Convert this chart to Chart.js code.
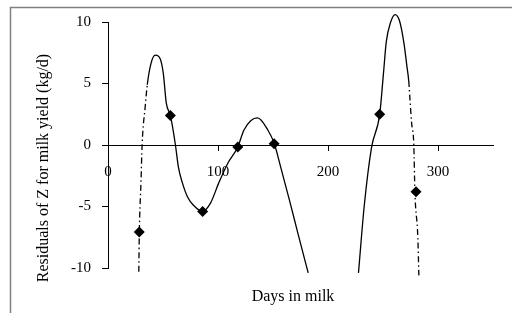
<!DOCTYPE html>
<html>
<head>
<meta charset="utf-8">
<script src="https://cdn.jsdelivr.net/npm/chart.js@4.4.1/dist/chart.umd.min.js"></script>
<style>
  html, body { margin: 0; padding: 0; background: #fff; }
  #wrap { width: 512px; height: 313px; position: relative; }
</style>
</head>
<body>
<div id="wrap"><canvas id="residChart"></canvas></div>
<script>
// tick labels
const xTicks = [0, 100, 200, 300];
const yTicks = [-10, -5, 0, 5, 10];

// observed residuals (diamonds)
const pointsX = [28.4, 56.7, 86, 118, 151, 247, 280];
const pointsY = [-7.07, 2.4, -5.4, -0.16, 0.1, 2.5, -3.8];

// fitted curve; first and second piece
// dashed flags: 1 = segment starting at this point is dash-dot
const leftX = [28, 28.5, 30, 31, 33.8, 35.7, 39, 43, 47.5, 50.3, 53, 56.7, 61.3, 64, 67.7, 72.2, 77.7, 86, 93.3, 100.6, 108.8, 118, 123.5, 130, 136, 145.4, 151, 157, 165, 172.7, 182];
const leftY = [-10.3, -7, -3, 0, 3.1, 4.9, 6.6, 7.3, 7.0, 5.8, 3.4, 2.4, 0, -1.8, -3.1, -4.2, -4.9, -5.4, -4.7, -3.1, -1.5, -0.16, 1.2, 2.0, 2.2, 1.2, 0.16, -1.8, -4.5, -7.2, -10.4];
const leftDashed = [1, 1, 1, 1, 1, 0, 0, 0, 0, 0, 0, 0, 0, 0, 0, 0, 0, 0, 0, 0, 0, 0, 0, 0, 0, 0, 0, 0, 0, 0, 0];

const rightX = [227.7, 233, 239.6, 247, 250.5, 253, 257, 261, 265, 269, 271.6, 273.4, 274.6, 276, 278, 279, 281.7, 282.6];
const rightY = [-10.4, -4.9, -0.2, 2.5, 5.9, 8.4, 10.0, 10.6, 10.1, 8.3, 6.5, 5.2, 3.6, 1.8, 0, -3.8, -7.6, -10.6];
const rightDashed = [0, 0, 0, 0, 0, 0, 0, 0, 0, 0, 0, 1, 1, 1, 1, 1, 1, 1];

function pairs(xs, ys) {
    return xs.map((x, i) => ({ x: x, y: ys[i] }));
}

function curve(xs, ys, dashed) {
    return {
        data: pairs(xs, ys),
        showLine: true,
        borderColor: '#000',
        borderWidth: 1.3,
        pointRadius: 0,
        cubicInterpolationMode: 'monotone',
        clip: false,
        segment: {
            borderDash: (c) => dashed[c.p0DataIndex] ? [6, 3, 1.5, 3] : [],
        },
    };
}

const serif = '"Liberation Serif", "Times New Roman", serif';

// axis titles and the picture frame
const decor = {
    id: 'decor',
    afterDraw(chart) {
        const ctx = chart.ctx;
        ctx.save();
        ctx.strokeStyle = '#808080';
        ctx.lineWidth = 1.5;
        ctx.beginPath();
        ctx.moveTo(10.5, 313);
        ctx.lineTo(10.5, 7.5);
        ctx.lineTo(512, 7.5);
        ctx.stroke();

        ctx.fillStyle = '#000';
        ctx.font = '16px ' + serif;
        ctx.textAlign = 'center';
        ctx.textBaseline = 'middle';
        ctx.fillText('Days in milk', 293, 297);
        ctx.translate(44, 168);
        ctx.rotate(-Math.PI / 2);
        ctx.fillText('Residuals of Z for milk yield (kg/d)', 0, 0);
        ctx.restore();
    }
};

const ctx = document.getElementById('residChart').getContext('2d');
new Chart(ctx, {
    type: 'scatter',
    data: {
        datasets: [
            curve(leftX, leftY, leftDashed),
            curve(rightX, rightY, rightDashed),
            {
                data: pairs(pointsX, pointsY),
                pointStyle: 'rectRot',
                pointRadius: 5.5,
                backgroundColor: '#000',
                borderColor: '#000',
                borderWidth: 0,
                clip: false,
            },
        ],
    },
    options: {
        responsive: true,
        maintainAspectRatio: false,
        animation: false,
        layout: { padding: { left: 0, top: 22, right: 19, bottom: 45 } },
        plugins: {
            legend: { display: false },
            tooltip: { enabled: false },
        },
        scales: {
            x: {
                type: 'linear',
                min: 0,
                max: 350,
                position: { y: 0 },
                afterBuildTicks: (scale) => { scale.ticks = xTicks.map(v => ({ value: v })); },
                afterFit: (scale) => { scale.height = 0; },
                grid: { drawOnChartArea: false, tickLength: 5, color: '#000' },
                border: { color: '#000', width: 1 },
                ticks: { color: '#000', padding: 13, maxRotation: 0, font: { family: serif, size: 15 } },
            },
            y: {
                min: -10,
                max: 10,
                afterBuildTicks: (scale) => { scale.ticks = yTicks.map(v => ({ value: v })); },
                afterFit: (scale) => { scale.width = 108; },
                grid: { drawOnChartArea: false, tickLength: 6, color: '#000' },
                border: { color: '#000', width: 1 },
                ticks: { color: '#000', padding: 11, font: { family: serif, size: 15 } },
            },
        },
    },
    plugins: [decor],
});
</script>
</body>
</html>
